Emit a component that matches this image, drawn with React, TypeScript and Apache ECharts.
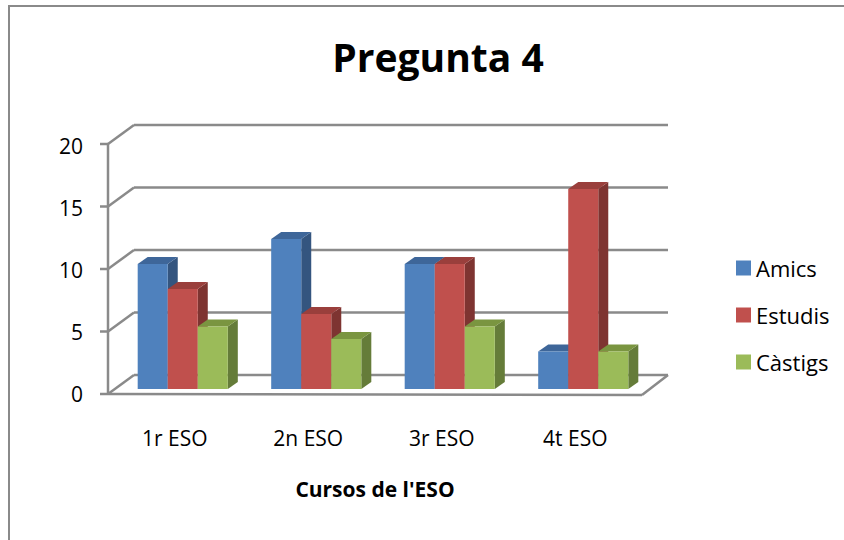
import React, { useEffect, useRef } from "react";
import * as echarts from "echarts";

const categories = ["1r ESO", "2n ESO", "3r ESO", "4t ESO"];
const seriesNames = ["Amics", "Estudis", "Càstigs"];
const amics = [10, 12, 10, 3];
const estudis = [8, 6, 10, 16];
const castigs = [5, 4, 5, 3];
const yTicks = [0, 5, 10, 15, 20];

const FONT = "'Open Sans', 'Noto Sans', sans-serif";
const GRID_COLOR = "#8a8a8a";
const frontColors = ["#4F81BD", "#C0504D", "#9BBB59"];
const sideColors = ["#34557F", "#7E3431", "#657C39"];
const topColors = ["#3E6699", "#9A3F3C", "#7A9540"];

// depth offsets (pixels)
const BAR_DX = 10;
const BAR_DY = -7;
const FRONT_DX = -7;
const FRONT_DY = 5;
const BACK_DX = 19;
const BACK_DY = -14;

export default function App() {
  const ref = useRef<HTMLDivElement>(null);

  useEffect(() => {
    if (!ref.current) return;
    const chart = echarts.init(ref.current, null, { renderer: "svg" });

    const lineStyle = { stroke: GRID_COLOR, lineWidth: 2.5, fill: null };

    const wallRender = (params: any, api: any) => {
      const cs = params.coordSys;
      const L = cs.x;
      const R = cs.x + cs.width;
      const v = api.value(1);
      const y = api.coord([0, v])[1];
      const children: any[] = [
        {
          type: "line",
          shape: { x1: L + BACK_DX, y1: y + BACK_DY, x2: R + BACK_DX, y2: y + BACK_DY },
          style: lineStyle,
        },
        {
          type: "line",
          shape: { x1: L + FRONT_DX, y1: y + FRONT_DY, x2: L + BACK_DX, y2: y + BACK_DY },
          style: lineStyle,
        },
        {
          type: "line",
          shape: { x1: L + FRONT_DX - 8, y1: y + FRONT_DY, x2: L + FRONT_DX, y2: y + FRONT_DY },
          style: lineStyle,
        },
      ];
      if (params.dataIndex === 0) {
        const y0 = api.coord([0, yTicks[0]])[1];
        const yMax = api.coord([0, yTicks[yTicks.length - 1]])[1];
        children.push(
          {
            type: "line",
            shape: { x1: L + FRONT_DX, y1: yMax + FRONT_DY, x2: L + FRONT_DX, y2: y0 + FRONT_DY },
            style: lineStyle,
          },
          {
            type: "line",
            shape: { x1: L + FRONT_DX, y1: y0 + FRONT_DY, x2: R + FRONT_DX, y2: y0 + FRONT_DY + 1 },
            style: lineStyle,
          },
          {
            type: "line",
            shape: { x1: R + FRONT_DX, y1: y0 + FRONT_DY + 1, x2: R + BACK_DX, y2: y0 + BACK_DY },
            style: lineStyle,
          }
        );
      }
      return { type: "group", children };
    };

    const makeBarRender = (sIdx: number) => (params: any, api: any) => {
      const ci = api.value(0);
      const v = api.value(1);
      const top = api.coord([ci, v]);
      const base = api.coord([ci, 0]);
      const band = api.size([1, 0])[0];
      const bw = band * 0.225;
      const x0 = top[0] - bw * 1.5 + bw * sIdx + 1;
      const x1 = x0 + bw;
      const yt = top[1];
      const yb = base[1];
      return {
        type: "group",
        children: [
          {
            type: "polygon",
            shape: { points: [[x1, yt], [x1 + BAR_DX, yt + BAR_DY], [x1 + BAR_DX, yb + BAR_DY], [x1, yb]] },
            style: { fill: sideColors[sIdx] },
          },
          {
            type: "polygon",
            shape: { points: [[x0, yt], [x0 + BAR_DX, yt + BAR_DY], [x1 + BAR_DX, yt + BAR_DY], [x1, yt]] },
            style: { fill: topColors[sIdx] },
          },
          {
            type: "rect",
            shape: { x: x0, y: yt, width: bw, height: yb - yt },
            style: { fill: frontColors[sIdx] },
          },
        ],
      };
    };

    const values = [amics, estudis, castigs];

    const option: any = {
      animation: false,
      backgroundColor: "#ffffff",
      textStyle: { fontFamily: FONT },
      title: {
        text: "Pregunta 4",
        left: 433,
        top: 32,
        textAlign: "center",
        textStyle: { fontFamily: FONT, fontSize: 39, fontWeight: "bold", color: "#000" },
      },
      legend: {
        data: seriesNames,
        orient: "vertical",
        left: 731,
        top: 252,
        itemWidth: 15,
        itemHeight: 15,
        itemGap: 25,
        icon: "rect",
        textStyle: { fontFamily: FONT, fontSize: 22, color: "#000" },
      },
      graphic: [
        {
          type: "line",
          shape: { x1: 9, y1: 5, x2: 9, y2: 540 },
          style: { stroke: GRID_COLOR, lineWidth: 2 },
          silent: true,
        },
        {
          type: "line",
          shape: { x1: 8, y1: 6, x2: 844, y2: 6 },
          style: { stroke: GRID_COLOR, lineWidth: 2 },
          silent: true,
        },
      ],
      grid: [
        { left: 115, top: 139, width: 534, height: 250 },
        { left: 108, top: 146, width: 534, height: 248 },
      ],
      xAxis: [
        { type: "category", data: categories, gridIndex: 0, show: false },
        {
          type: "category",
          data: categories,
          gridIndex: 1,
          axisLine: { show: false },
          axisTick: { show: false },
          axisLabel: { fontFamily: FONT, fontSize: 21, color: "#000", margin: 33 },
          name: "Cursos de l'ESO",
          nameLocation: "middle",
          nameGap: 84,
          nameTextStyle: { fontFamily: FONT, fontSize: 21, fontWeight: "bold", color: "#000" },
        },
      ],
      yAxis: [
        { type: "value", min: 0, max: 20, interval: 5, gridIndex: 0, show: false },
        {
          type: "value",
          min: 0,
          max: 20,
          interval: 5,
          gridIndex: 1,
          axisLine: { show: false },
          axisTick: { show: false },
          splitLine: { show: false },
          axisLabel: { fontFamily: FONT, fontSize: 21, color: "#000", margin: 25 },
        },
      ],
      series: [
        {
          type: "custom",
          name: "walls",
          xAxisIndex: 0,
          yAxisIndex: 0,
          renderItem: wallRender,
          data: yTicks.map((t) => [0, t]),
          silent: true,
          z: 1,
        },
        ...seriesNames.map((name, sIdx) => ({
          type: "custom",
          name,
          xAxisIndex: 0,
          yAxisIndex: 0,
          itemStyle: { color: frontColors[sIdx] },
          renderItem: makeBarRender(sIdx),
          data: categories.map((_, i) => [i, values[sIdx][i]]),
          z: 2 + sIdx,
        })),
      ],
    };

    chart.setOption(option);
    return () => chart.dispose();
  }, []);

  return (
    <div
      ref={ref}
      style={{ position: "fixed", left: 0, top: 0, width: 844, height: 540 }}
    />
  );
}
